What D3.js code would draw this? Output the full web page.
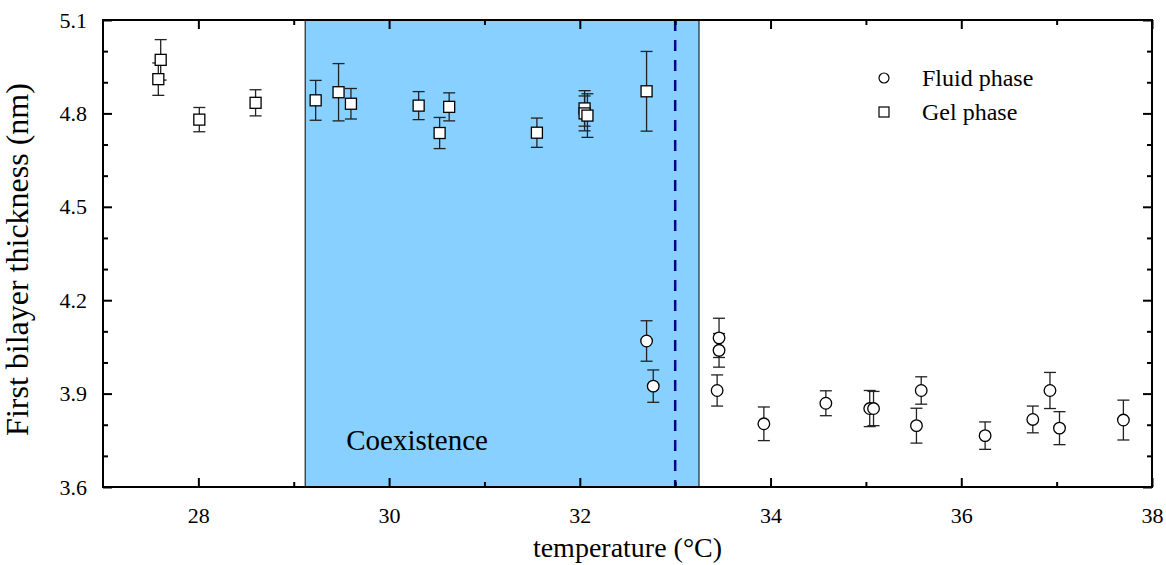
<!DOCTYPE html>
<html>
<head>
<meta charset="utf-8">
<script src="https://cdn.jsdelivr.net/npm/d3@7"></script>
<style>
  body { margin: 0; background: #fff; }
  text { font-family: "Liberation Serif", "Times New Roman", serif; fill: #000; }
</style>
</head>
<body>
<div id="chart"></div>
<script>
// gel phase (squares)
var gelTemp = [27.58, 27.605, 28.01, 28.60, 29.23, 29.47, 29.60, 30.31, 30.53, 30.63, 31.55, 32.05, 32.05, 32.08, 32.70]
var gelThick = [4.91, 4.972, 4.78, 4.834, 4.842, 4.868, 4.831, 4.825, 4.737, 4.821, 4.738, 4.816, 4.80, 4.793, 4.871]
var gelErr = [0.052, 0.065, 0.039, 0.042, 0.064, 0.092, 0.049, 0.045, 0.05, 0.045, 0.047, 0.057, 0.056, 0.07, 0.128]

// fluid phase (circles)
var fluidTemp = [32.70, 32.77, 33.46, 33.46, 33.44, 33.93, 34.58, 35.04, 35.08, 35.58, 35.53, 36.25, 36.75, 36.93, 37.03, 37.70]
var fluidThick = [4.069, 3.924, 4.079, 4.039, 3.91, 3.803, 3.869, 3.852, 3.852, 3.91, 3.797, 3.765, 3.817, 3.91, 3.789, 3.815]
var fluidErr = [0.065, 0.052, 0.063, 0.054, 0.05, 0.054, 0.04, 0.058, 0.055, 0.044, 0.056, 0.044, 0.043, 0.058, 0.053, 0.064]

var xTicks = [28, 30, 32, 34, 36, 38]
var xMinor = [29, 31, 33, 35, 37]
var yTicks = [3.6, 3.9, 4.2, 4.5, 4.8, 5.1]
var yMinor = [3.7, 3.8, 4.0, 4.1, 4.3, 4.4, 4.6, 4.7, 4.9, 5.0]

var coexistence = [29.12, 33.25]
var transition = 33.0
var legendLabels = ["Fluid phase", "Gel phase"]

var W = 1166, H = 565
var margin = {top: 20, right: 14, bottom: 78, left: 103},
    width = W - margin.left - margin.right,
    height = H - margin.top - margin.bottom;

var svg = d3.select("#chart").append("svg")
    .attr("width", W).attr("height", H)
  .append("g")
    .attr("transform", "translate(" + margin.left + "," + margin.top + ")");

var x = d3.scaleLinear().domain([27, 38]).range([0, width])
var y = d3.scaleLinear().domain([3.6, 5.1]).range([height, 0])

// coexistence band
svg.append("rect")
  .attr("x", x(coexistence[0])).attr("y", 0)
  .attr("width", x(coexistence[1]) - x(coexistence[0]))
  .attr("height", height)
  .attr("fill", "#87d0ff")
  .attr("stroke", "#000").attr("stroke-width", 1)

svg.append("text")
  .attr("x", x(29.55)).attr("y", y(3.72))
  .attr("font-size", 29)
  .text("Coexistence")

svg.append("line")
  .attr("x1", x(transition)).attr("x2", x(transition))
  .attr("y1", 0).attr("y2", height)
  .attr("stroke", "#00008b").attr("stroke-width", 2.5)
  .attr("stroke-dasharray", "11,9")

var gel = gelTemp.map((t, i) => ({t: t, v: gelThick[i], e: gelErr[i]}))
var fluid = fluidTemp.map((t, i) => ({t: t, v: fluidThick[i], e: fluidErr[i]}))

function errorBars(data) {
  var g = svg.append("g").attr("stroke", "#222").attr("stroke-width", 1.3)
  data.forEach(function(d) {
    var cx = x(d.t)
    g.append("line").attr("x1", cx).attr("x2", cx).attr("y1", y(d.v - d.e)).attr("y2", y(d.v + d.e))
    g.append("line").attr("x1", cx - 6).attr("x2", cx + 6).attr("y1", y(d.v + d.e)).attr("y2", y(d.v + d.e))
    g.append("line").attr("x1", cx - 6).attr("x2", cx + 6).attr("y1", y(d.v - d.e)).attr("y2", y(d.v - d.e))
  })
}
errorBars(gel)
errorBars(fluid)

svg.selectAll(".gel").data(gel).enter().append("rect")
  .attr("x", d => x(d.t) - 5.5).attr("y", d => y(d.v) - 5.5)
  .attr("width", 11).attr("height", 11)
  .attr("fill", "#fff").attr("stroke", "#000").attr("stroke-width", 1.3)

svg.selectAll(".fluid").data(fluid).enter().append("circle")
  .attr("cx", d => x(d.t)).attr("cy", d => y(d.v)).attr("r", 5.8)
  .attr("fill", "#fff").attr("stroke", "#000").attr("stroke-width", 1.3)

// axes, ticks inward
function styleAxis(g) {
  g.select(".domain").remove()
  g.selectAll(".tick line").attr("stroke", "#000").attr("stroke-width", 2)
  g.selectAll(".tick text").attr("font-family", "Liberation Serif").attr("font-size", 22).attr("fill", "#000")
}
svg.append("g").attr("transform", "translate(0," + height + ")")
  .call(d3.axisBottom(x).tickValues(xTicks).tickSize(-9).tickPadding(20).tickFormat(d3.format("d")))
  .call(styleAxis)
svg.append("g").attr("transform", "translate(0," + height + ")")
  .call(d3.axisBottom(x).tickValues(xMinor).tickSize(-5).tickFormat(""))
  .call(styleAxis)
svg.append("g")
  .call(d3.axisTop(x).tickValues(xTicks).tickSize(-9).tickFormat(""))
  .call(styleAxis)
svg.append("g")
  .call(d3.axisTop(x).tickValues(xMinor).tickSize(-5).tickFormat(""))
  .call(styleAxis)
svg.append("g")
  .call(d3.axisLeft(y).tickValues(yTicks).tickSize(-9).tickPadding(16).tickFormat(d3.format(".1f")))
  .call(styleAxis)
svg.append("g")
  .call(d3.axisLeft(y).tickValues(yMinor).tickSize(-5).tickFormat(""))
  .call(styleAxis)
svg.append("g").attr("transform", "translate(" + width + ",0)")
  .call(d3.axisRight(y).tickValues(yTicks).tickSize(-9).tickFormat(""))
  .call(styleAxis)
svg.append("g").attr("transform", "translate(" + width + ",0)")
  .call(d3.axisRight(y).tickValues(yMinor).tickSize(-5).tickFormat(""))
  .call(styleAxis)

svg.append("rect")
  .attr("width", width).attr("height", height)
  .attr("fill", "none").attr("stroke", "#000").attr("stroke-width", 2)

// axis titles
svg.append("text")
  .attr("x", width / 2).attr("y", height + 70)
  .attr("text-anchor", "middle").attr("font-size", 28)
  .text("temperature (°C)")
svg.append("text")
  .attr("transform", "translate(-75," + (height / 2 + 6) + ") rotate(-90)")
  .attr("text-anchor", "middle").attr("font-size", 32)
  .text("First bilayer thickness (nm)")

// legend
var legend = svg.append("g").attr("transform", "translate(781,58)")
legend.append("circle").attr("cx", 0).attr("cy", 0).attr("r", 5)
  .attr("fill", "#fff").attr("stroke", "#000").attr("stroke-width", 1.2)
legend.append("rect").attr("x", -5).attr("y", 29).attr("width", 10).attr("height", 10)
  .attr("fill", "#fff").attr("stroke", "#000").attr("stroke-width", 1.2)
legend.selectAll(".lab").data(legendLabels).enter().append("text")
  .attr("x", 38).attr("y", (d, i) => 8 + i * 34)
  .attr("font-size", 24)
  .text(d => d)
</script>
</body>
</html>
